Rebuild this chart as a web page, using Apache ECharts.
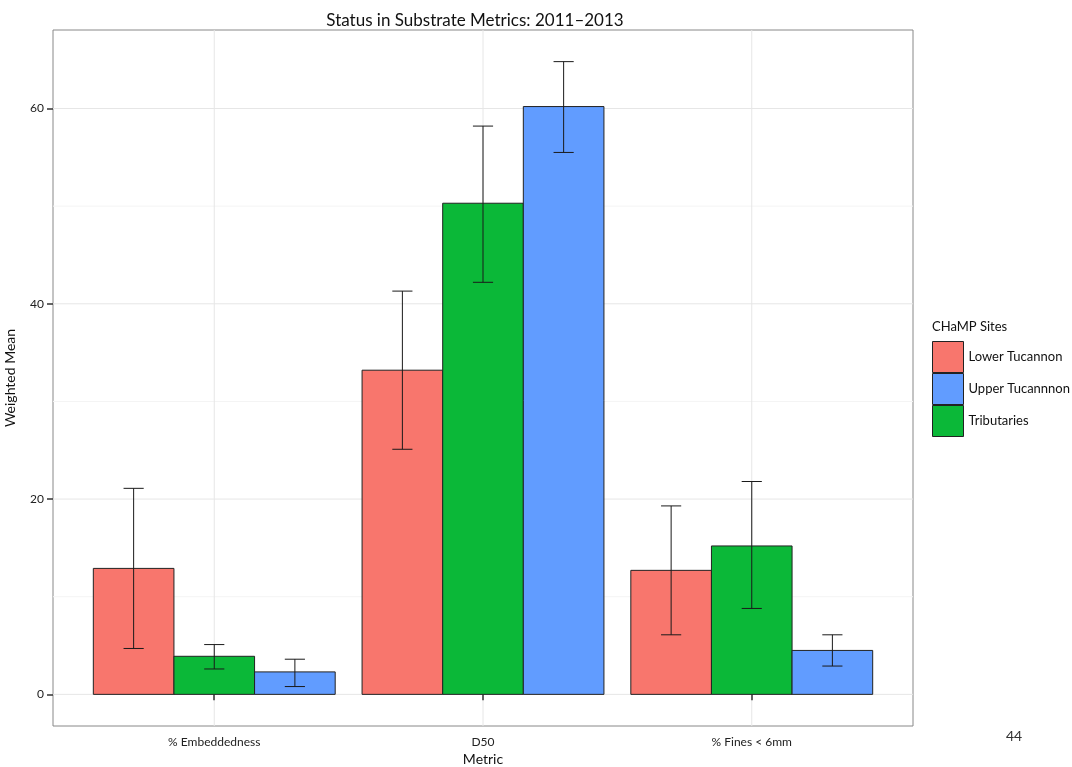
<!DOCTYPE html>
<html>
<head>
<meta charset="utf-8">
<script src="https://cdn.jsdelivr.net/npm/echarts@6/dist/echarts.min.js"></script>
<style>
  html, body { margin: 0; padding: 0; background: #fff; }
  #main { width: 1072px; height: 767px; }
</style>
</head>
<body>
<div id="main"></div>
<script>
// data
var categories = ['% Embeddedness', 'D50', '% Fines < 6mm'];
var siteNames = ['Lower Tucannon', 'Upper Tucannnon', 'Tributaries'];

var lowerMean = [12.9, 33.2, 12.7];
var lowerLo = [4.7, 25.1, 6.1];
var lowerHi = [21.1, 41.3, 19.3];

var tribMean = [3.9, 50.3, 15.2];
var tribLo = [2.6, 42.2, 8.8];
var tribHi = [5.1, 58.2, 21.8];

var upperMean = [2.3, 60.2, 4.5];
var upperLo = [0.8, 55.5, 2.9];
var upperHi = [3.6, 64.8, 6.1];

var yTicks = [0, 20, 40, 60];
var yMinor = [10, 30, 50];

var colors = { lower: '#F8766D', upper: '#619CFF', trib: '#0BB838' };
var font = 'Lato, "Open Sans", sans-serif';

// ggplot-style 5% expansion of the data range
var yTop = Math.max.apply(null, lowerHi.concat(tribHi, upperHi));
var yMin = -0.05 * yTop, yMax = yTop * 1.05;

function rows(mean, lo, hi) {
  return mean.map(function (m, i) { return [i + 1, m, lo[i], hi[i]]; });
}

function barRenderer(offset) {
  return function (params, api) {
    var x = api.value(0) + offset;
    var a = api.coord([x - 0.15, api.value(1)]);
    var b = api.coord([x + 0.15, 0]);
    var lo = api.coord([x, api.value(2)]);
    var hi = api.coord([x, api.value(3)]);
    var cw = api.size([0.075, 0])[0] / 2;
    var ls = { stroke: '#1a1a1a', lineWidth: 1 };
    return {
      type: 'group',
      children: [
        { type: 'rect', shape: { x: a[0], y: a[1], width: b[0] - a[0], height: b[1] - a[1] },
          style: { fill: api.visual('color'), stroke: '#222', lineWidth: 1 } },
        { type: 'line', shape: { x1: lo[0], y1: lo[1], x2: hi[0], y2: hi[1] }, style: ls },
        { type: 'line', shape: { x1: lo[0] - cw, y1: lo[1], x2: lo[0] + cw, y2: lo[1] }, style: ls },
        { type: 'line', shape: { x1: hi[0] - cw, y1: hi[1], x2: hi[0] + cw, y2: hi[1] }, style: ls }
      ]
    };
  };
}

function gridRenderer(params, api) {
  var kind = api.value(0), v = api.value(1);
  var p1, p2;
  if (kind === 0) { p1 = api.coord([0.4, v]); p2 = api.coord([3.6, v]); }
  else { p1 = api.coord([v, yMin]); p2 = api.coord([v, yMax]); }
  return { type: 'line', shape: { x1: p1[0], y1: p1[1], x2: p2[0], y2: p2[1] },
    style: { stroke: api.value(2) ? '#e6e6e6' : '#f4f4f4', lineWidth: 1 } };
}

var gridData = yTicks.map(function (v) { return [0, v, 1]; })
  .concat(yMinor.map(function (v) { return [0, v, 0]; }))
  .concat(categories.map(function (c, i) { return [1, i + 1, 1]; }));

var chart = echarts.init(document.getElementById('main'));
chart.setOption({
  animation: false,
  textStyle: { fontFamily: font },
  title: {
    text: 'Status in Substrate Metrics: 2011\u20132013',
    left: 470, top: 7, textAlign: 'center',
    textStyle: { fontFamily: font, fontSize: 17, fontWeight: 'normal', color: '#111' }
  },
  grid: { left: 53, right: 159, top: 30, bottom: 41, outerBoundsMode: 'none',
    containLabel: false, show: true, borderColor: '#888', borderWidth: 1 },
  legend: {
    orient: 'vertical', left: 932, top: 341, padding: 0,
    itemWidth: 31, itemHeight: 31, itemGap: 0, icon: 'rect',
    data: siteNames,
    itemStyle: { borderColor: '#222', borderWidth: 1 },
    textStyle: { fontFamily: font, fontSize: 13, color: '#111' }
  },
  graphic: [
    { type: 'text', left: 932, top: 320, style: { text: 'CHaMP Sites', font: '13px ' + font, fill: '#111' } },
    { type: 'text', left: 1006, top: 729, style: { text: '44', font: '14px ' + font, fill: '#333' } }
  ],
  xAxis: {
    type: 'value', min: 0.4, max: 3.6,
    name: 'Metric', nameLocation: 'middle', nameGap: 25,
    nameTextStyle: { fontFamily: font, fontSize: 14, color: '#111' },
    axisLine: { show: false },
    splitLine: { show: false },
    axisTick: { show: true, customValues: [1, 2, 3], length: 6, lineStyle: { color: '#333', width: 1.5 } },
    axisLabel: {
      customValues: [1, 2, 3], margin: 10, fontSize: 12, color: '#222', fontFamily: font,
      formatter: function (v) { return categories[Math.round(v) - 1]; }
    }
  },
  yAxis: {
    type: 'value', min: yMin, max: yMax,
    name: 'Weighted Mean', nameLocation: 'middle', nameGap: 36,
    nameTextStyle: { fontFamily: font, fontSize: 14, color: '#111' },
    axisLine: { show: false },
    splitLine: { show: false },
    axisTick: { show: true, customValues: yTicks, length: 6, lineStyle: { color: '#333', width: 1.5 } },
    axisLabel: { customValues: yTicks, margin: 9, fontSize: 12, color: '#222', fontFamily: font }
  },
  series: [
    { type: 'custom', name: 'grid', silent: true, z: 0, renderItem: gridRenderer, data: gridData },
    { type: 'custom', name: siteNames[0], z: 2, itemStyle: { color: colors.lower },
      renderItem: barRenderer(-0.3), data: rows(lowerMean, lowerLo, lowerHi) },
    { type: 'custom', name: siteNames[2], z: 2, itemStyle: { color: colors.trib },
      renderItem: barRenderer(0), data: rows(tribMean, tribLo, tribHi) },
    { type: 'custom', name: siteNames[1], z: 2, itemStyle: { color: colors.upper },
      renderItem: barRenderer(0.3), data: rows(upperMean, upperLo, upperHi) }
  ]
});
</script>
</body>
</html>
